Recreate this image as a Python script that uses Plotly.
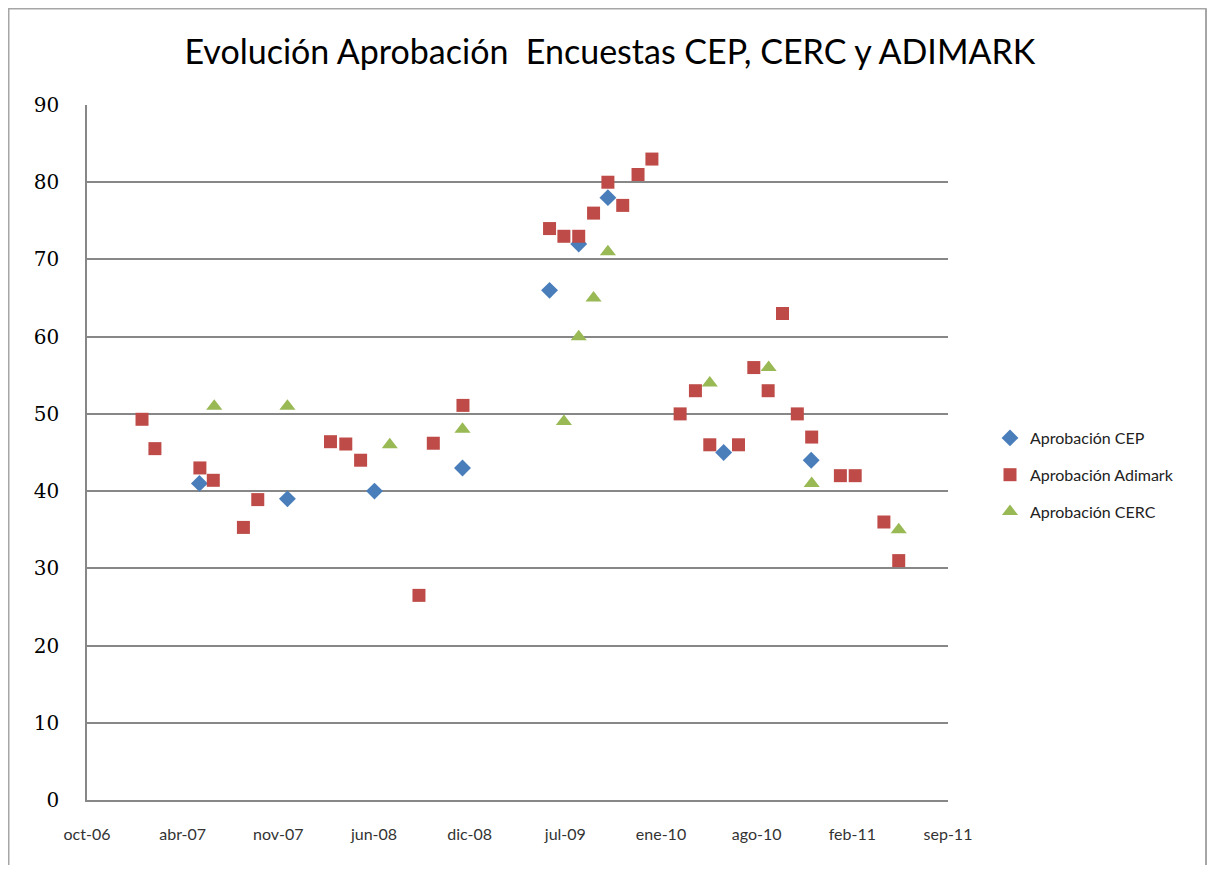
import plotly.graph_objects as go

# ---- data ----
cep_dates = ["2007-06-02", "2007-12-03", "2008-06-02", "2008-12-03", "2009-06-03",
             "2009-08-03", "2009-10-03", "2010-06-02", "2010-12-02"]
cep_values = [41, 39, 40, 43, 66, 72, 78, 45, 44]

adimark_dates = ["2007-02-02", "2007-03-01", "2007-06-03", "2007-07-01", "2007-09-02",
                 "2007-10-02", "2008-03-02", "2008-04-03", "2008-05-04", "2008-09-03",
                 "2008-10-03", "2008-12-04", "2009-06-03", "2009-07-03", "2009-08-03",
                 "2009-09-03", "2009-10-03", "2009-11-03", "2009-12-05", "2010-01-03",
                 "2010-03-03", "2010-04-04", "2010-05-04", "2010-07-03", "2010-08-04",
                 "2010-09-03", "2010-10-03", "2010-11-03", "2010-12-03", "2011-02-01",
                 "2011-03-04", "2011-05-03", "2011-06-03"]
adimark_values = [49.3, 45.5, 43, 41.4, 35.3, 38.9, 46.4, 46.1, 44, 26.5,
                  46.2, 51.1, 74, 73, 73, 76, 80, 77, 81, 83,
                  50, 53, 46, 46, 56, 53, 63, 50, 47, 42,
                  42, 36, 31]

cerc_dates = ["2007-07-03", "2007-12-03", "2008-07-04", "2008-12-03", "2009-07-03",
              "2009-08-03", "2009-09-03", "2009-10-03", "2010-05-04", "2010-09-04",
              "2010-12-03", "2011-06-03"]
cerc_values = [51, 51, 46, 48, 49, 60, 65, 71, 54, 56, 41, 35]

x_tick_dates = ["2006-10-10", "2007-04-28", "2007-11-14", "2008-06-01", "2008-12-18",
                "2009-07-06", "2010-01-22", "2010-08-10", "2011-02-26", "2011-09-14"]
x_tick_labels = ["oct-06", "abr-07", "nov-07", "jun-08", "dic-08",
                 "jul-09", "ene-10", "ago-10", "feb-11", "sep-11"]
y_ticks = [0, 10, 20, 30, 40, 50, 60, 70, 80, 90]

title_text = "Evolución Aprobación  Encuestas CEP, CERC y ADIMARK"

# ---- figure ----
W, H = 1199, 857
ML, MR, MT, MB = 79, 259, 97, 65
PW, PH = W - ML - MR, H - MT - MB

def px_x(fx):
    return (fx - ML) / PW

def px_y(fy):
    return (H - MB - fy) / PH

fig = go.Figure()
fig.add_trace(go.Scatter(
    x=cep_dates, y=cep_values, mode="markers", name="Aprobación CEP",
    legendgroup="a",
    marker=dict(symbol="diamond", size=13, color="#4A7EBB", line=dict(width=0))))
fig.add_trace(go.Scatter(
    x=adimark_dates, y=adimark_values, mode="markers", name="Aprobación Adimark",
    legendgroup="b",
    marker=dict(symbol="square", size=13, color="#BE4B48", line=dict(width=0))))
fig.add_trace(go.Scatter(
    x=cerc_dates, y=cerc_values, mode="markers", name="Aprobación CERC",
    legendgroup="c",
    marker=dict(symbol="triangle-up", size=14, color="#98B954", line=dict(width=0))))

grid_col = "#878787"
fig.update_layout(
    width=W, height=H,
    margin=dict(l=ML, r=MR, t=MT, b=MB, pad=0),
    paper_bgcolor="white", plot_bgcolor="white",
    title=dict(text=title_text, x=0.502, xanchor="center", y=1 - 44 / H, yanchor="middle",
               font=dict(family="Lato", size=34, color="#000000")),
    showlegend=True,
    legend=dict(x=px_x(982), y=px_y(413), xanchor="left", yanchor="top",
                font=dict(family="Lato", size=16, color="#222222"),
                tracegroupgap=13, itemwidth=30, bgcolor="rgba(0,0,0,0)",
                borderwidth=0),
    xaxis=dict(type="date", range=[x_tick_dates[0], x_tick_dates[-1]],
               tickmode="array", tickvals=x_tick_dates, ticktext=x_tick_labels,
               showgrid=False, zeroline=False, showline=True, linecolor=grid_col,
               linewidth=1.5, ticks="", ticklabelstandoff=19,
               tickfont=dict(family="Lato", size=16, color="#333333")),
    yaxis=dict(range=[0, 90], tickmode="array", tickvals=y_ticks,
               showgrid=True, gridcolor=grid_col, gridwidth=1.5,
               zeroline=False, showline=True, linecolor=grid_col, linewidth=1.5,
               ticks="", ticklabelstandoff=22,
               tickfont=dict(family="DejaVu Serif", size=20, color="#000000")),
)

border_col = "#a6a6a6"
for x0, y0, x1, y1 in [(-0.5, 0.5, W - 0.5, 0.5), (0.5, 0.5, 0.5, H), (W - 1, 0.5, W - 1, H)]:
    fig.add_shape(type="line", xref="paper", yref="paper",
                  x0=px_x(x0), y0=px_y(y0), x1=px_x(x1), y1=px_y(y1),
                  line=dict(color=border_col, width=2))

fig.write_html("out.html")
